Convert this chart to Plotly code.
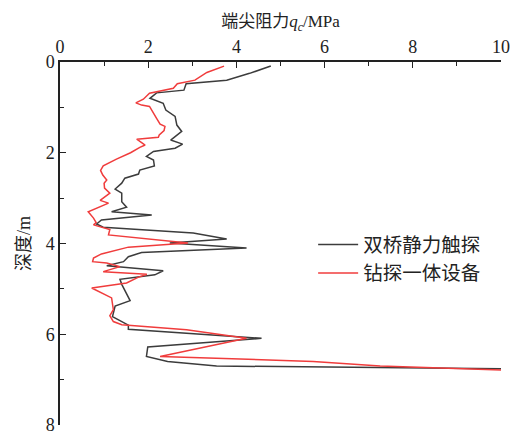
import plotly.graph_objects as go

# 双桥静力触探 (black)
depth_cpt = [0.09, 0.25, 0.40, 0.48, 0.62, 0.68, 0.80, 0.91, 1.06, 1.20, 1.39, 1.53, 1.72, 1.81, 1.90,
             1.97, 2.08, 2.16, 2.29, 2.38, 2.47, 2.56, 2.67, 2.80, 2.89, 3.08, 3.20, 3.30, 3.37, 3.48,
             3.57, 3.64, 3.77, 3.90, 3.99, 4.10, 4.20, 4.29, 4.40, 4.45, 4.49, 4.60, 4.69, 4.79, 4.90,
             5.26, 5.38, 5.61, 5.80, 5.89, 6.09, 6.28, 6.49, 6.60, 6.70, 6.76]
qc_cpt = [4.78, 4.30, 3.78, 2.86, 2.81, 2.19, 2.04, 2.34, 2.40, 2.61, 2.65, 2.76, 2.51, 2.78, 2.61,
          2.12, 1.96, 2.12, 2.14, 1.81, 1.78, 1.47, 1.40, 1.25, 1.40, 1.40, 1.51, 1.17, 2.08, 0.94,
          0.83, 0.98, 3.02, 3.78, 2.49, 4.23, 1.85, 1.55, 1.44, 1.25, 1.06, 2.34, 2.15, 1.36, 1.40,
          1.59, 1.25, 1.19, 1.55, 1.55, 4.57, 1.99, 1.96, 2.44, 3.55, 10.0]

# 钻探一体设备 (red)
depth_drill = [0.09, 0.23, 0.40, 0.48, 0.58, 0.69, 0.82, 0.90, 0.95, 0.98, 1.24, 1.37, 1.42, 1.51, 1.61,
               1.66, 1.70, 1.83, 1.88, 2.00, 2.14, 2.29, 2.39, 2.49, 2.60, 2.67, 2.78, 2.89, 3.05, 3.11,
               3.30, 3.44, 3.54, 3.59, 3.69, 3.81, 3.99, 4.08, 4.23, 4.32, 4.40, 4.43, 4.51, 4.62, 4.68,
               4.74, 4.87, 4.98, 5.20, 5.46, 5.59, 5.72, 5.79, 5.90, 6.09, 6.49, 6.60, 6.70, 6.79]
qc_drill = [3.72, 3.33, 3.06, 2.66, 2.57, 2.03, 1.89, 1.72, 1.85, 2.03, 2.19, 2.27, 2.38, 2.36, 2.25,
            2.23, 1.74, 1.93, 1.81, 1.60, 1.28, 0.98, 0.92, 0.97, 1.06, 1.00, 1.01, 1.13, 0.91, 1.10,
            0.64, 0.76, 0.82, 0.76, 1.13, 1.10, 2.90, 1.55, 0.94, 0.76, 0.74, 1.06, 1.36, 0.98, 1.97,
            1.78, 1.51, 0.72, 1.17, 1.21, 1.13, 1.21, 1.40, 2.87, 4.23, 2.27, 5.74, 7.26, 10.0]

names = ["双桥静力触探", "钻探一体设备"]
colors = ["#3c3c3c", "#f03c3c"]

FONT = "Liberation Serif, Times New Roman, Noto Sans CJK SC, serif"

fig = go.Figure()
fig.add_trace(go.Scatter(x=qc_cpt, y=depth_cpt, mode="lines", name=names[0],
                         line=dict(color=colors[0], width=1.5)))
fig.add_trace(go.Scatter(x=qc_drill, y=depth_drill, mode="lines", name=names[1],
                         line=dict(color=colors[1], width=1.5)))

fig.update_layout(
    width=521, height=434,
    margin=dict(l=60, r=20, t=62, b=9, autoexpand=False),
    paper_bgcolor="white", plot_bgcolor="white",
    font=dict(family=FONT, size=16, color="#222"),
    showlegend=True,
    legend=dict(x=0.574, y=0.55, xanchor="left", yanchor="top",
                bgcolor="rgba(0,0,0,0)", font=dict(family="Noto Sans CJK SC", size=19.5),
                tracegroupgap=0, itemwidth=40),
    xaxis=dict(
        side="top", range=[0, 10], dtick=2, tick0=0, automargin=False,
        ticks="inside", ticklen=6, tickwidth=1.2, tickcolor="#222",
        minor=dict(dtick=1, ticks="inside", ticklen=4, tickcolor="#222", tickwidth=1.2),
        showline=True, linecolor="#222", linewidth=1.5, mirror=False,
        showgrid=False, zeroline=False, ticklabeloverflow="allow",
        title=dict(text="端尖阻力<i>q</i><sub><i>c</i></sub>/MPa", standoff=5,
                   font=dict(family=FONT, size=17)),
        tickfont=dict(family=FONT, size=18),
    ),
    yaxis=dict(
        range=[8, 0], dtick=2, tick0=0, automargin=False,
        ticks="inside", ticklen=6, tickwidth=1.2, tickcolor="#222",
        minor=dict(dtick=1, ticks="inside", ticklen=4, tickcolor="#222", tickwidth=1.2),
        showline=True, linecolor="#222", linewidth=1.5, mirror=False,
        showgrid=False, zeroline=False, ticklabeloverflow="allow",
        title=dict(text="深度/m", standoff=10, font=dict(family=FONT, size=18)),
        tickfont=dict(family=FONT, size=18),
    ),
)

fig.write_html("out.html")
